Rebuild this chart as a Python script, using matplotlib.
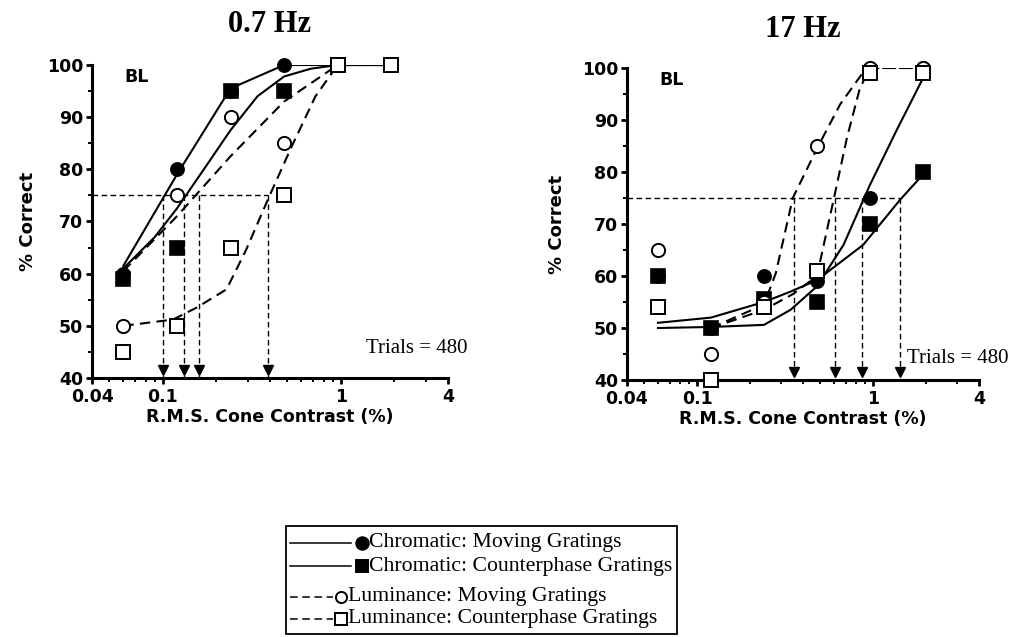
import matplotlib
matplotlib.use("Agg")
import matplotlib.pyplot as plt
from matplotlib.patches import Rectangle

# ---------------- data ----------------
contrast = [0.06, 0.12, 0.24, 0.48, 0.96, 1.92]

# 0.7 Hz panel (measured % correct)
lo_chrom_moving = [60, 80, 95, 100, 100, 100]
lo_chrom_counter = [59, 65, 95, 95, 100, 100]
lo_lum_moving = [50, 75, 90, 85, 100, 100]
lo_lum_counter = [45, 50, 65, 75, 100, 100]

# 0.7 Hz fitted curves
lo_fit_cm_x = [0.06, 0.12, 0.24, 0.48, 0.96, 1.92]
lo_fit_cm_y = [61.5, 79, 95.5, 100, 100, 100]
lo_fit_cc_x = [0.06, 0.09, 0.12, 0.17, 0.24, 0.34, 0.48, 0.68, 0.96, 1.92]
lo_fit_cc_y = [61, 67, 72.5, 80, 87.5, 94, 97.8, 99.3, 100, 100]
lo_fit_lm_x = [0.06, 0.12, 0.24, 0.48, 0.96, 1.92]
lo_fit_lm_y = [60.5, 71, 82.5, 93, 100, 100]
lo_fit_lc_x = [0.06, 0.114, 0.155, 0.228, 0.294, 0.396, 0.53, 0.72, 0.96, 1.92]
lo_fit_lc_y = [50, 51.2, 53.5, 57, 64.6, 74.8, 84.4, 94, 100, 100]
lo_thresholds = [0.1, 0.131, 0.159, 0.39]

# 17 Hz panel (measured % correct)
hi_chrom_moving = [60, 50, 60, 59, 75, 100]
hi_chrom_counter = [60, 50, 55.5, 55, 70, 80]
hi_lum_moving = [65, 45, 55, 85, 100, 100]
hi_lum_counter = [54, 40, 54, 61, 99, 99]

# 17 Hz fitted curves
hi_fit_cm_x = [0.06, 0.12, 0.24, 0.34, 0.48, 0.68, 0.96, 1.36, 1.92]
hi_fit_cm_y = [50, 50.2, 50.6, 53.5, 58, 66, 77.5, 88, 98]
hi_fit_cc_x = [0.06, 0.12, 0.24, 0.34, 0.48, 0.6, 0.88, 1.42, 1.92]
hi_fit_cc_y = [51, 52, 55, 57, 59.2, 61.7, 66, 74.6, 79.5]
hi_fit_lm_x = [0.12, 0.24, 0.28, 0.35, 0.48, 0.65, 0.88, 0.96, 1.92]
hi_fit_lm_y = [50, 54.5, 60.5, 75, 84.5, 93, 99.2, 100, 100]
hi_fit_lc_x = [0.12, 0.24, 0.35, 0.48, 0.6, 0.71, 0.84, 0.96, 1.92]
hi_fit_lc_y = [50, 53.5, 56.5, 60, 75, 86.5, 96, 100, 100]
hi_thresholds = [0.356, 0.608, 0.866, 1.42]

criterion = 75
x_ticks = [0.04, 0.1, 1, 4]
x_ticklabels = ["0.04", "0.1", "1", "4"]
y_ticks = [40, 50, 60, 70, 80, 90, 100]

legend_labels = ["Chromatic: Moving Gratings", "Chromatic: Counterphase Gratings",
                 "Luminance: Moving Gratings", "Luminance: Counterphase Gratings"]

SANS = ["DejaVu Sans"]
SERIF = ["Liberation Serif", "DejaVu Serif"]

fig = plt.figure(figsize=(10.16, 6.37), dpi=100)
W, H = 1016, 637

axL = fig.add_axes([92 / W, 1 - 378 / H, 356 / W, 313 / H])
axR = fig.add_axes([627 / W, 1 - 380 / H, 352 / W, 312 / H])

DASH = (0, (5, 3))
THR_DASH = (0, (4, 2.5))
MS_C = 9.5
MS_S = 10


def draw_panel(ax, title, data, fits, thresholds, ylab_x, title_y):
    cm, cc, lm, lc = data
    (cmx, cmy), (ccx, ccy), (lmx, lmy), (lcx, lcy) = fits
    ax.set_xscale("log")
    ax.set_xlim(0.04, 4)
    ax.set_ylim(40, 100)

    # threshold guides
    ax.plot([0.04, max(thresholds)], [criterion, criterion], color="black",
            lw=1.0, linestyle=THR_DASH, zorder=1)
    for t in thresholds:
        ax.plot([t, t], [criterion, 40], color="black", lw=1.0,
                linestyle=THR_DASH, zorder=1)
        ax.plot([t], [41.5], marker="v", color="black", markersize=7,
                linestyle="none", zorder=2, clip_on=False)

    # fitted curves
    ax.plot(cmx, cmy, color="black", lw=1.5, zorder=3)
    ax.plot(ccx, ccy, color="black", lw=1.5, zorder=3)
    ax.plot(lmx, lmy, color="black", lw=1.5, linestyle=DASH, zorder=3)
    ax.plot(lcx, lcy, color="black", lw=1.5, linestyle=DASH, zorder=3)

    # data points
    ax.plot(contrast, cm, "o", ms=MS_C, mfc="black", mec="black", mew=1.2,
            zorder=4, clip_on=False)
    ax.plot(contrast, cc, "s", ms=MS_S, mfc="black", mec="black", mew=1.2,
            zorder=5, clip_on=False)
    ax.plot(contrast, lm, "o", ms=MS_C, mfc="white", mec="black", mew=1.4,
            zorder=6, clip_on=False)
    ax.plot(contrast, lc, "s", ms=MS_S, mfc="white", mec="black", mew=1.4,
            zorder=7, clip_on=False)

    for side in ("top", "right"):
        ax.spines[side].set_visible(False)
    for side in ("left", "bottom"):
        ax.spines[side].set_linewidth(2.2)

    ax.set_xticks(x_ticks)
    ax.set_xticklabels(x_ticklabels)
    ax.set_yticks(y_ticks)
    ax.tick_params(which="major", direction="out", length=4, width=2.0)
    ax.tick_params(axis="x", which="major", pad=3)
    ax.tick_params(axis="y", which="major", pad=2.5)
    ax.tick_params(which="minor", direction="out", length=3, width=1.4)
    ax.yaxis.set_minor_locator(matplotlib.ticker.MultipleLocator(5))
    ax.xaxis.set_minor_formatter(matplotlib.ticker.NullFormatter())
    for lab in ax.get_xticklabels() + ax.get_yticklabels():
        lab.set_fontfamily(SANS)
        lab.set_fontweight("bold")
        lab.set_fontsize(12.5)

    ax.set_xlabel("R.M.S. Cone Contrast (%)", fontfamily=SANS,
                  fontweight="bold", fontsize=12.5)
    ax.xaxis.set_label_coords(0.5, -0.125)
    ax.xaxis.label.set_va("center")
    ax.set_ylabel("% Correct", fontfamily=SANS, fontweight="bold", fontsize=13)
    ax.yaxis.set_label_coords(ylab_x, 0.5)
    ax.yaxis.label.set_va("center")

    ax.text(0.5, title_y, title, transform=ax.transAxes, ha="center",
            va="center", fontfamily=SERIF, fontweight="bold", fontsize=22)
    ax.text(0.092, 0.962, "BL", transform=ax.transAxes, ha="left",
            va="center", fontfamily=SANS, fontweight="bold", fontsize=12.5)


draw_panel(axL, "0.7 Hz",
           (lo_chrom_moving, lo_chrom_counter, lo_lum_moving, lo_lum_counter),
           ((lo_fit_cm_x, lo_fit_cm_y), (lo_fit_cc_x, lo_fit_cc_y),
            (lo_fit_lm_x, lo_fit_lm_y), (lo_fit_lc_x, lo_fit_lc_y)),
           lo_thresholds, -0.18, 1.13)
draw_panel(axR, "17 Hz",
           (hi_chrom_moving, hi_chrom_counter, hi_lum_moving, hi_lum_counter),
           ((hi_fit_cm_x, hi_fit_cm_y), (hi_fit_cc_x, hi_fit_cc_y),
            (hi_fit_lm_x, hi_fit_lm_y), (hi_fit_lc_x, hi_fit_lc_y)),
           hi_thresholds, -0.2, 1.122)

axL.text(0.77, 0.093, "Trials = 480", transform=axL.transAxes, ha="left",
         va="center", fontfamily=SERIF, fontsize=15)
axR.text(0.795, 0.07, "Trials = 480", transform=axR.transAxes, ha="left",
         va="center", fontfamily=SERIF, fontsize=15)

# ---------------- legend ----------------
lg = fig.add_axes([285 / W, 1 - 634 / H, 393 / W, 109 / H])
lg.set_xlim(0, 393)
lg.set_ylim(109, 0)
lg.axis("off")
lg.add_patch(Rectangle((0.5, 0.5), 392, 108, fill=False, lw=1.3,
                       edgecolor="black", clip_on=False))
rows = [18, 41, 72, 94]
styles = [("-", "o", "black"), ("-", "s", "black"),
          (DASH, "o", "white"), (DASH, "s", "white")]
for i, (label, (ls, mk, fc), ry) in enumerate(zip(legend_labels, styles, rows)):
    if i < 2:
        lx0, lx1, mx, tx = 5, 66, 77, 84
    else:
        lx0, lx1, mx, tx = 5, 48, 56, 63
    lg.plot([lx0, lx1], [ry, ry], color="black", lw=1.1, linestyle=ls)
    lg.plot([mx], [ry], marker=mk, ms=9 if fc == "black" else 8,
            mfc=fc, mec="black", mew=1.4, linestyle="none")
    lg.text(tx, ry, label, ha="left", va="center", fontfamily=SERIF,
            fontsize=15.7)

fig.savefig("out.png", dpi=100)
